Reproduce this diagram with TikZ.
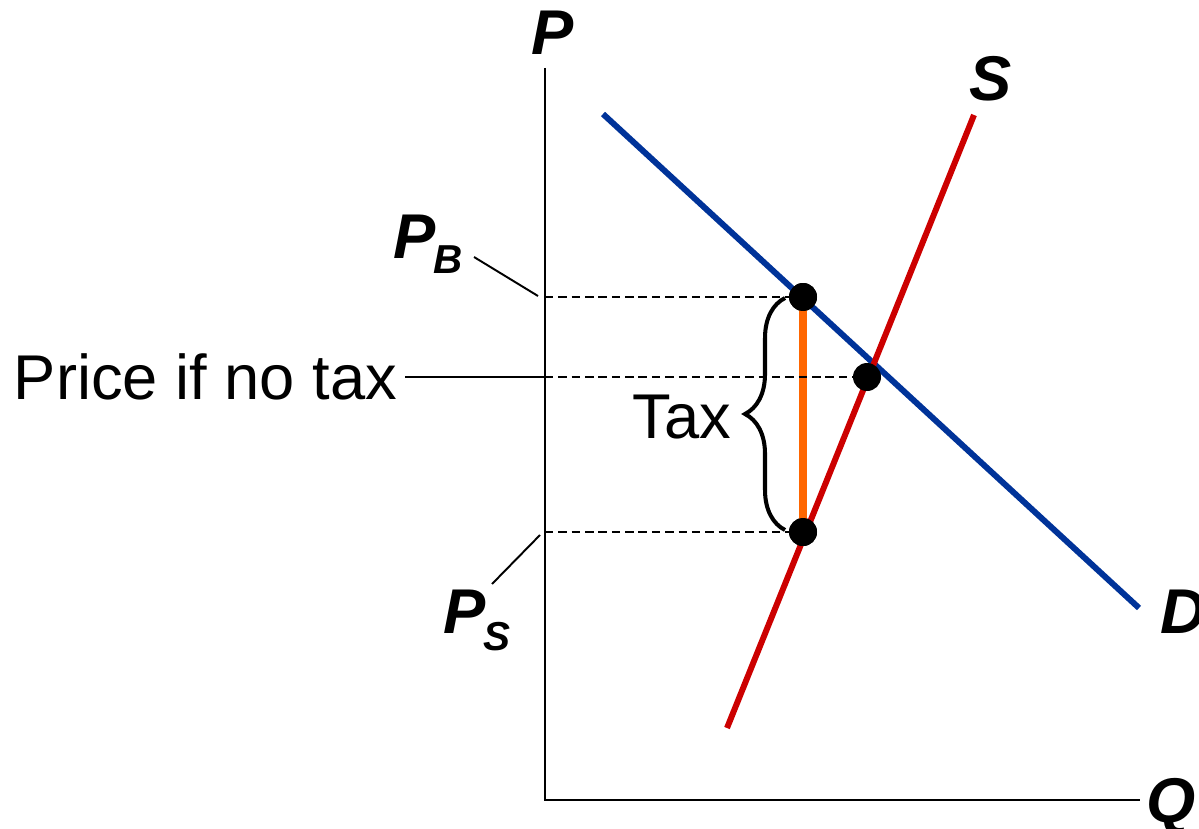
\documentclass[tikz,border=0pt]{standalone}
\usepackage{fontspec}
\setmainfont{Liberation Sans}
\usetikzlibrary{decorations.pathreplacing}

\definecolor{demandblue}{RGB}{0,51,153}
\definecolor{supplyred}{RGB}{204,0,0}
\definecolor{taxorange}{RGB}{255,102,0}

\tikzset{
  guide/.style={line width=1.1pt},
  dashguide/.style={line width=1.2pt, dash pattern=on 4.8pt off 2.8pt},
  curve/.style={line width=3.4pt},
  dot/.style={circle, fill=black, inner sep=0pt, minimum size=0.56cm},
  biglabel/.style={font=\fontsize{36}{40}\selectfont, inner sep=0pt},
  varlabel/.style={font=\fontsize{36}{40}\selectfont\bfseries\itshape, inner sep=0pt},
}

\begin{document}
\begin{tikzpicture}[x=0.02cm, y=-0.02cm]
    \useasboundingbox (0,0) rectangle (1199,828);
    % axes
    \coordinate (origin) at (545,800);
    \coordinate (axistop) at (545,68);
    \coordinate (axisright) at (1140,800);
    \draw[guide] (axistop) -- (origin) -- (axisright);
    \node[varlabel] (plabel) at (553,33) {P};
    \node[varlabel, anchor=base west] (qlabel) at (1146,822) {Q};
    % price levels on the axis
    \coordinate (pbaxis) at (545,297);
    \coordinate (eqaxis) at (545,377);
    \coordinate (psaxis) at (545,532);
    % demand and supply
    \coordinate (dtop) at (603,114); \coordinate (dbot) at (1139,608);
    \coordinate (sbot) at (727,728); \coordinate (stop) at (974,115);
    \draw[curve, demandblue] (dtop) -- (dbot);
    \draw[curve, supplyred] (sbot) -- (stop);
    \node[varlabel, anchor=base west] (dlabel) at (1160,633) {D};
    \node[varlabel] (slabel) at (991,79) {S};
    % points
    \node[dot] (buyer) at (803,297) {};
    \node[dot] (equil) at (867,377) {};
    \node[dot] (seller) at (803,532) {};
    \draw[line width=4pt, taxorange] (buyer.center) -- (seller.center);
    \node[dot] at (buyer) {};
    \node[dot] at (seller) {};
    \draw[dashguide] (pbaxis) -- (buyer);
    \draw[dashguide] (eqaxis) -- (equil);
    \draw[dashguide] (psaxis) -- (seller);
    % labels on the left
    \node[varlabel, anchor=base west] (pblabel) at (393,258) {P\kern-1pt\raisebox{-9pt}{\fontsize{23}{26}\selectfont B}};
    \node[varlabel, anchor=base west] (pslabel) at (443,633) {P\kern-1pt\raisebox{-10pt}{\fontsize{23}{26}\selectfont S}};
    \coordinate (pbfoot) at (474,257); \coordinate (pbtick) at (538,296);
    \coordinate (psfoot) at (492,584); \coordinate (pstick) at (540,535);
    \draw[guide] (pbfoot) -- (pbtick);
    \draw[guide] (psfoot) -- (pstick);
    \node[biglabel, anchor=east, outer sep=0.16cm] (notax) at (405,377) {Price if no tax};
    \draw[guide] (notax.east) -- (eqaxis);
    % tax brace
    \coordinate (bracebot) at (785,530); \coordinate (bracetop) at (785,298);
    \draw[line width=2.3pt, decorate, decoration={brace, amplitude=0.8cm}] (bracebot) -- (bracetop);
    \node[biglabel] (taxlabel) at (682,417) {Tax};
\end{tikzpicture}
\end{document}
